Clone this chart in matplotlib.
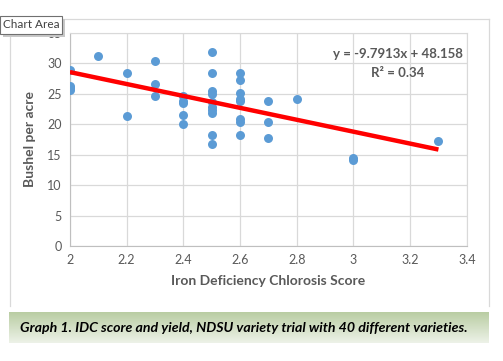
import numpy as np
import matplotlib.pyplot as plt
from matplotlib.patches import Rectangle
from matplotlib.lines import Line2D

plt.rcParams['font.family'] = ['Lato', 'DejaVu Sans']

# IDC score (x) and yield (bushel per acre) for the 40 varieties
idc_score = [2.0, 2.0, 2.0, 2.0,
             2.1,
             2.2, 2.2,
             2.3, 2.3, 2.3,
             2.4, 2.4, 2.4, 2.4, 2.4,
             2.5, 2.5, 2.5, 2.5, 2.5, 2.5, 2.5, 2.5, 2.5, 2.5,
             2.6, 2.6, 2.6, 2.6, 2.6, 2.6, 2.6, 2.6,
             2.7, 2.7, 2.7,
             2.8,
             3.0, 3.0,
             3.3]
yield_bu = [29.0, 26.3, 26.0, 25.7,
            31.3,
            28.5, 21.3,
            30.4, 26.7, 24.6,
            24.7, 23.9, 23.5, 21.6, 20.0,
            31.8, 28.4, 25.4, 25.0, 23.7, 22.8, 22.3, 21.9, 18.3, 16.7,
            28.5, 27.2, 25.2, 24.2, 23.9, 20.9, 20.4, 18.3,
            23.9, 20.3, 17.7,
            24.2,
            14.5, 14.2,
            17.2]

slope = -9.7913
intercept = 48.158
r_squared = 0.34

x_ticks = [2, 2.2, 2.4, 2.6, 2.8, 3, 3.2, 3.4]
y_ticks = [0, 5, 10, 15, 20, 25, 30, 35]

fig = plt.figure(figsize=(5.03, 3.61), dpi=100)
ax = fig.add_axes([0.139, 0.3186, 0.789, 0.590])

ax.scatter(idc_score, yield_bu, s=42, color='#5b9bd5', zorder=3, linewidths=0)

trend_x = np.array([min(idc_score), max(idc_score)])
ax.plot(trend_x, slope * trend_x + intercept, color='#ff0000', lw=3.2, zorder=4,
        solid_capstyle='butt')

ax.set_xlim(2, 3.4)
ax.set_ylim(0, 35)
ax.set_xticks(x_ticks)
ax.set_xticklabels([f"{t:g}" for t in x_ticks])
ax.set_yticks(y_ticks)
ax.grid(True, color='#d9d9d9', lw=0.9, zorder=0)
ax.set_axisbelow(True)
for side in ax.spines:
    ax.spines[side].set_color('#d9d9d9')
ax.spines['left'].set_color('#bfbfbf')
ax.spines['bottom'].set_color('#bfbfbf')
ax.tick_params(length=0, labelsize=9, labelcolor='#595959', pad=6)

ax.set_xlabel("Iron Deficiency Chlorosis Score", fontsize=10, fontweight='bold',
              color='#595959', labelpad=6)
ax.set_ylabel("Bushel per acre", fontsize=10, fontweight='bold',
              color='#595959', labelpad=8)

ax.text(3.158, 31.6, f"y = {slope}x + {intercept}", ha='center', va='center',
        fontsize=9.5, fontweight='bold', color='#595959')
ax.text(3.158, 28.5, f"R² = {r_squared}", ha='center', va='center',
        fontsize=9.5, fontweight='bold', color='#595959')

# chart area border (left, top, right)
W, H = 503, 361
def fx(px):
    return px / W
def fy(py):
    return 1 - py / H
for xs, ys in [([10, 10], [19, 306]), ([10, 489], [19, 19]), ([489, 489], [19, 306])]:
    fig.add_artist(Line2D([fx(v) for v in xs], [fy(v) for v in ys],
                          color='#d9d9d9', lw=0.9, transform=fig.transFigure))

# "Chart Area" tooltip
fig.add_artist(Rectangle((fx(3), fy(37)), fx(62), 18 / H, transform=fig.transFigure,
                         facecolor='#c8c8c8', edgecolor='none', zorder=9))
fig.add_artist(Rectangle((fx(0), fy(34)), fx(62), 18 / H, transform=fig.transFigure,
                         facecolor='white', edgecolor='#707070', lw=0.8, zorder=10))
fig.text(fx(3), fy(25), "Chart Area", fontsize=8.5, color='#404040',
         va='center', ha='left', zorder=11)

# caption strip with green gradient
grad = np.linspace(0, 1, 64).reshape(-1, 1)
top = np.array([0.72, 0.80, 0.63])
bottom = np.array([0.93, 0.95, 0.91])
img = top + (bottom - top) * grad[:, :, None]
cap_ax = fig.add_axes([fx(9), fy(343), fx(480), 31 / H])
cap_ax.imshow(img, aspect='auto', extent=[0, 1, 0, 1])
cap_ax.set_axis_off()
cap_ax.text(0.023, 0.5, "Graph 1. IDC score and yield, NDSU variety trial with 40 different varieties.",
            fontsize=10.2, fontweight='bold', style='italic', color='black',
            va='center', ha='left', transform=cap_ax.transAxes)

fig.savefig('out.png', dpi=100)
